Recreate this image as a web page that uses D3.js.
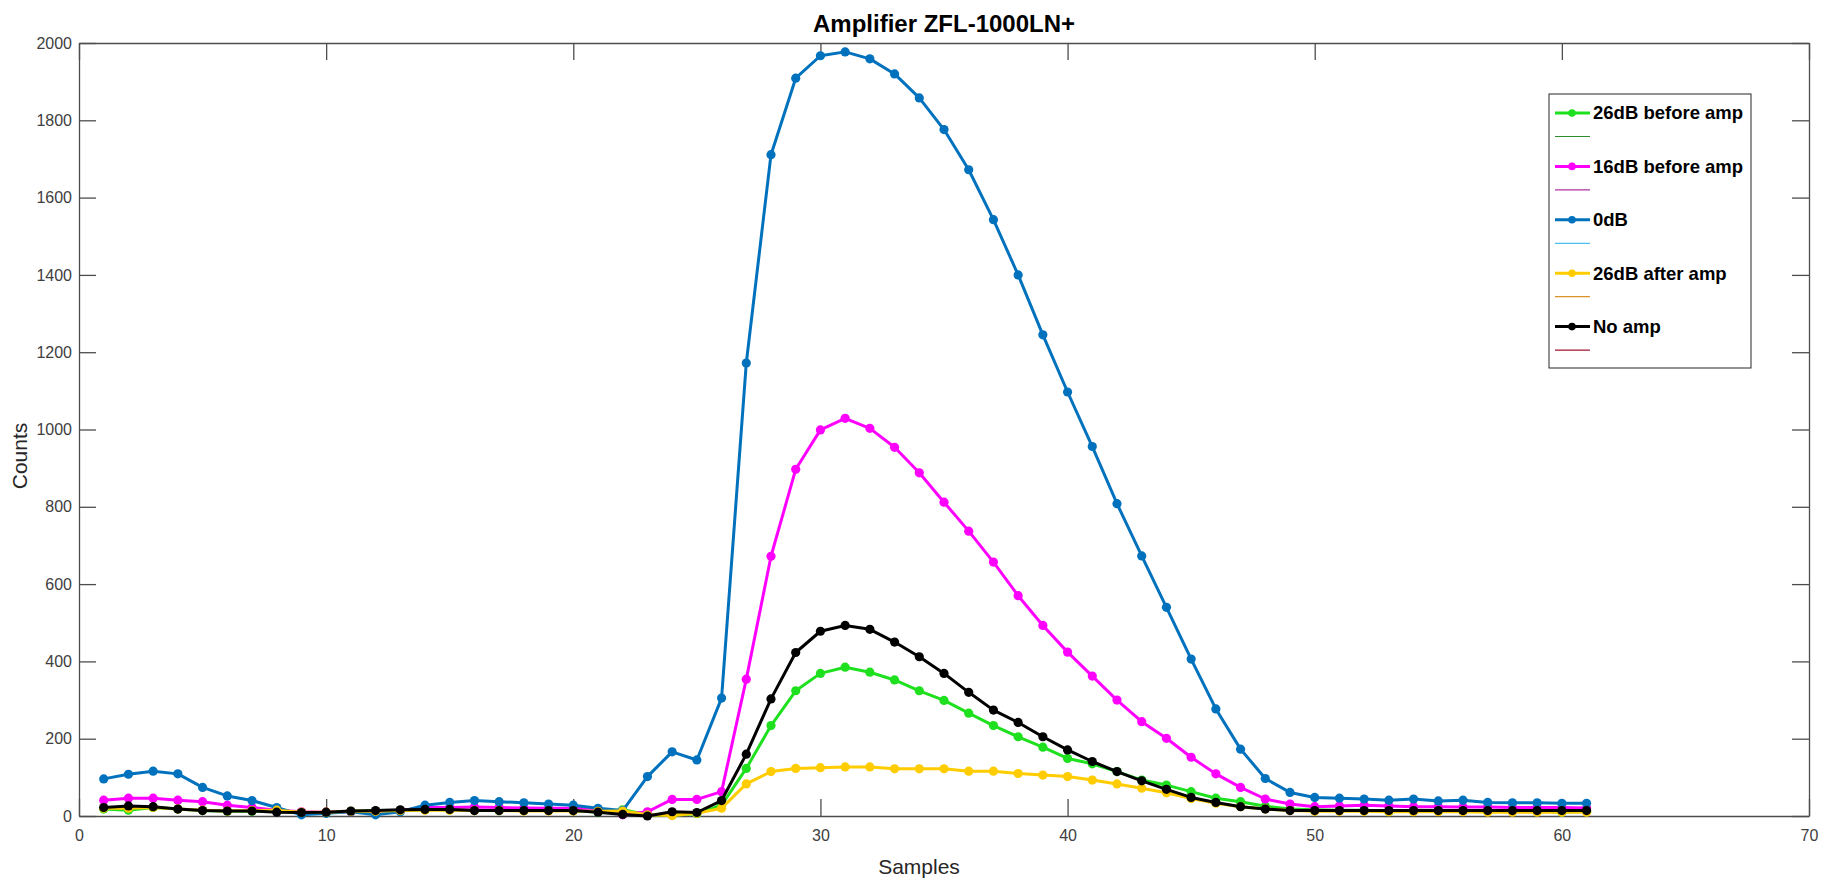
<!DOCTYPE html>
<html>
<head>
<meta charset="utf-8">
<script src="https://cdn.jsdelivr.net/npm/d3@7"></script>
<style>
  body { margin: 0; background: #fff; }
  text { font-family: "Liberation Sans", Arial, sans-serif; }
</style>
</head>
<body>
<svg id="chart"></svg>
<script>
var samples = d3.range(1, 62);

var db26Before = [18, 15, 22, 18, 14, 12, 12, 12, 9, 8, 12, 13, 14, 16, 16, 14, 14, 14, 14, 14, 10, 16, 3, 2, 6, 28,
  123, 234, 324, 369, 385, 372, 352, 324, 299, 266, 234, 205, 178, 149, 135, 115, 93, 80, 63, 46, 37, 25, 18, 16,
  15, 15, 11, 15, 14, 13, 14, 14, 13, 10, 12];
var db16Before = [41, 46, 46, 41, 37, 28, 22, 15, 11, 10, 11, 12, 14, 22, 22, 23, 22, 21, 20, 20, 18, 3, 11, 43, 43, 63,
  354, 672, 897, 999, 1029, 1003, 954, 888, 812, 737, 657, 570, 493, 424, 362, 300, 244, 201, 152, 109, 74, 44, 31, 24,
  26, 28, 26, 24, 24, 23, 23, 22, 22, 22, 21];
var db0 = [96, 108, 116, 109, 74, 52, 40, 22, 3, 7, 11, 3, 11, 28, 35, 40, 37, 34, 31, 28, 20, 14, 102, 166, 145, 305,
  1172, 1711, 1909, 1967, 1977, 1959, 1920, 1858, 1776, 1672, 1543, 1400, 1245, 1097, 956, 808, 673, 540, 406, 277, 173, 97, 61, 48,
  46, 44, 41, 44, 39, 41, 35, 34, 34, 33, 33];
var db26After = [20, 20, 22, 18, 15, 13, 14, 15, 10, 10, 12, 12, 14, 15, 15, 14, 14, 13, 13, 13, 12, 13, 3, 1, 7, 20,
  83, 115, 123, 125, 127, 127, 122, 122, 122, 116, 116, 110, 106, 102, 93, 83, 72, 60, 45, 33, 24, 18, 14, 12,
  12, 12, 11, 11, 11, 11, 10, 10, 10, 10, 10];
var noAmp = [22, 26, 24, 18, 14, 13, 13, 10, 9, 10, 13, 14, 16, 17, 17, 14, 14, 14, 14, 14, 10, 4, 0, 11, 9, 40,
  160, 303, 423, 478, 493, 483, 450, 412, 369, 320, 274, 242, 205, 171, 141, 115, 91, 69, 48, 35, 24, 18, 14, 14,
  14, 14, 14, 14, 14, 14, 14, 14, 14, 14, 14];

var seriesNames = ["26dB before amp", "16dB before amp", "0dB", "26dB after amp", "No amp"];
var seriesValues = [db26Before, db16Before, db0, db26After, noAmp];
var seriesColors = ["#1fe01f", "#ff00ff", "#0072bd", "#ffcc00", "#000000"];
var ghostColors = ["#2e8b2e", "#b0309f", "#4dbeee", "#d9952a", "#a2142f"];

var xTicks = [0, 10, 20, 30, 40, 50, 60, 70];
var yTicks = [0, 200, 400, 600, 800, 1000, 1200, 1400, 1600, 1800, 2000];

var W = 1835, H = 880;
var margin = {left: 79, right: 26, top: 43, bottom: 64};

var svg = d3.select("#chart")
            .attr("width", W)
            .attr("height", H);

var x = d3.scaleLinear().domain([0, 70]).range([margin.left, W - margin.right]);
var y = d3.scaleLinear().domain([0, 2000]).range([H - margin.bottom, margin.top]);

var axisColor = "#4d4d4d";
var tickLen = 17;

// ticks on all four sides, pointing inwards
var gx = svg.append("g")
  .attr("transform", "translate(0," + y(0) + ")")
  .call(d3.axisBottom(x).tickValues(xTicks).tickSizeInner(-tickLen).tickSizeOuter(0).tickPadding(14));
var gxTop = svg.append("g")
  .attr("transform", "translate(0," + y(2000) + ")")
  .call(d3.axisTop(x).tickValues(xTicks).tickSizeInner(-tickLen).tickSizeOuter(0).tickFormat(""));
var gy = svg.append("g")
  .attr("transform", "translate(" + x(0) + ",0)")
  .call(d3.axisLeft(y).tickValues(yTicks).tickFormat(d3.format("d")).tickSizeInner(-tickLen).tickSizeOuter(0).tickPadding(7));
var gyRight = svg.append("g")
  .attr("transform", "translate(" + x(70) + ",0)")
  .call(d3.axisRight(y).tickValues(yTicks).tickSizeInner(-tickLen).tickSizeOuter(0).tickFormat(""));

[gx, gxTop, gy, gyRight].forEach(function(g) {
  g.select(".domain").attr("stroke", axisColor).attr("stroke-width", 1.3);
  g.selectAll(".tick line").attr("stroke", axisColor).attr("stroke-width", 1.3);
  g.selectAll(".tick text")
    .attr("fill", "#404040")
    .style("font-size", "16px")
    .style("font-family", "Liberation Sans, Arial, sans-serif");
});

var line = d3.line()
  .x(function(d, i){return x(samples[i]);})
  .y(function(d){return y(d);});

var plot = svg.append("g");

seriesValues.forEach(function(vals, k) {
  plot.append("path")
    .datum(vals)
    .attr("d", line)
    .attr("fill", "none")
    .attr("stroke", seriesColors[k])
    .attr("stroke-width", 3)
    .attr("stroke-linejoin", "round");

  plot.selectAll(".dot" + k)
    .data(vals)
    .enter()
    .append("circle")
    .attr("class", "dot" + k)
    .attr("cx", function(d, i){return x(samples[i]);})
    .attr("cy", function(d){return y(d);})
    .attr("r", 4.6)
    .attr("fill", seriesColors[k]);
});

// title and axis labels
svg.append("text")
  .attr("x", (x(0) + x(70)) / 2)
  .attr("y", 32)
  .attr("text-anchor", "middle")
  .style("font-size", "24px")
  .style("font-weight", "bold")
  .attr("fill", "#000")
  .text("Amplifier ZFL-1000LN+");

svg.append("text")
  .attr("x", 919)
  .attr("y", 874)
  .attr("text-anchor", "middle")
  .style("font-size", "21px")
  .attr("fill", "#262626")
  .text("Samples");

svg.append("text")
  .attr("transform", "translate(27,456) rotate(-90)")
  .attr("text-anchor", "middle")
  .style("font-size", "21px")
  .attr("fill", "#262626")
  .text("Counts");

// legend
var legend = svg.append("g");
legend.append("rect")
  .attr("x", 1549)
  .attr("y", 94)
  .attr("width", 202)
  .attr("height", 274)
  .attr("fill", "#fff")
  .attr("stroke", "#262626")
  .attr("stroke-width", 1);

var rowY = function(i){return 113 + i * 53.4;};

seriesNames.forEach(function(name, i) {
  legend.append("line")
    .attr("x1", 1555).attr("x2", 1590)
    .attr("y1", rowY(i)).attr("y2", rowY(i))
    .attr("stroke", seriesColors[i])
    .attr("stroke-width", 3);
  legend.append("circle")
    .attr("cx", 1572).attr("cy", rowY(i))
    .attr("r", 3.8)
    .attr("fill", seriesColors[i]);
  legend.append("text")
    .attr("x", 1593)
    .attr("y", rowY(i))
    .attr("dy", "0.35em")
    .style("font-size", "18.5px")
    .style("font-weight", "bold")
    .attr("fill", "#000")
    .text(name);
  legend.append("line")
    .attr("x1", 1555).attr("x2", 1590)
    .attr("y1", rowY(i) + 23.5).attr("y2", rowY(i) + 23.5)
    .attr("stroke", ghostColors[i])
    .attr("stroke-width", 1.2);
});
</script>
</body>
</html>
